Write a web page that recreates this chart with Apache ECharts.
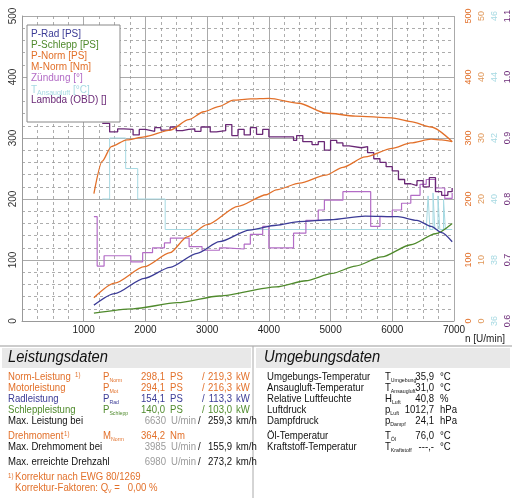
<!DOCTYPE html>
<html><head><meta charset="utf-8">
<script src="https://cdn.jsdelivr.net/npm/echarts@6/dist/echarts.min.js"></script>
<style>html,body{margin:0;padding:0;background:#fff}#main{width:512px;height:498px}</style>
</head><body><div id="main"></div>
<script>
// curves, rpm / value
var pNormRpm = [1165,1500,1982,2400,2676,3000,3500,3958,4119,4500,4920,5200,5561,6000,6300,6630,6800,6971];
var pNorm    = [38,62,89,112,138,158,188,207,215,226,239,252,269,283,292,298,297,294];
var mNormRpm = [1165,1300,1447,1700,1982,2404,2700,2944,3200,3424,3700,4006,4487,4920,5400,5989,6300,6630,6971];
var mNorm    = [209,262,286,297,302,313,330,343,352,362,364,365,357,341,336,333,327,318,294];
var pRadRpm  = [1165,1500,1982,2400,2837,3200,3686,4119,4487,5000,5561,6090,6400,6630,6800,6971];
var pRad     = [26,45,70,88,111,130,149,157,163,166,172,171,165,155,145,130];
var pSchRpm  = [1165,1800,2516,3200,4119,4600,5027,5400,5827,6300,6700,6971];
var pSch     = [13,20,30,41,56,66,78,90,105,125,143,160];
var lamRpm   = [1300,1420,1550,1650,1800,1900,2000,2150,2250,2400,2500,2600,2700,2800,2900,3050,3150,3300,3400,3500,3600,3700,3800,3900,4000,4300,4400,4450,4550,4700,4800,4900,5000,5100,5200,5300,5500,5600,5700,5800,5900,6000,6100,6200,6300,6400,6500,6600,6700,6800,6900,6970];
var lambda   = [0.924,0.910,0.915,0.914,0.905,0.914,0.911,0.917,0.913,0.918,0.912,0.914,0.915,0.911,0.918,0.910,0.912,0.922,0.904,0.914,0.905,0.917,0.906,0.914,0.902,0.902,0.896,0.904,0.894,0.889,0.894,0.880,0.896,0.892,0.887,0.884,0.886,0.876,0.866,0.860,0.853,0.846,0.832,0.825,0.822,0.830,0.820,0.835,0.812,0.806,0.812,0.818];
var zRpm     = [1165,1218,1330,1763,1955,2115,2308,2404,2708,2917,3200,3300,3600,3700,3900,4000,4400,4600,4800,4900,5200,5650,5800,6000,6150,6300,6450,6550,6700,6850,6970];
var zuend    = [17.1,9.0,10.7,9.7,11.2,12.0,12.8,13.6,12.2,11.6,12.0,11.8,12.6,14.2,15.5,12.0,14.4,16.5,18.2,19.8,21.2,15.5,17.1,18.2,19.3,20.6,22.4,23.2,21.8,20.1,21.0];
var tRpm     = [1300,1420,1680,1875,2320,6550,6580,6610,6660,6690,6740,6770,6830,6860,6971];
var tAns     = [40.0,42.0,41.0,40.0,39.0,39.0,40.1,39.0,40.2,39.0,40.1,39.0,40.0,39.0,39.0];

var leftTicks = [0,100,200,300,400,500];

function pts(xs, ys) { return xs.map(function (x, i) { return [x, ys[i]]; }); }

var myChart = echarts.init(document.getElementById('main'));
var F = 'Liberation Sans, Arial, sans-serif';
var gridLine = {show: true, lineStyle: {color: '#aaa', width: 1}};
var minorLine = {show: true, lineStyle: {color: '#999', type: [3, 3], width: 0.8}};

function rAxis(min, max, iv, off, color, fmt) {
    return {type: 'value', position: 'right', min: min, max: max, interval: iv, offset: off,
        axisLine: {show: false}, axisTick: {show: false}, splitLine: {show: false},
        axisLabel: {rotate: 90, margin: 10, color: color, fontSize: 9, fontFamily: F, formatter: fmt}};
}

var SX = 0.87;
function tx(x, y, s, c, extra) {
    var o = {type: 'text', x: x, y: y, z: 100, scaleX: SX, style: {text: s, fill: c || '#111', font: '11px ' + F}};
    if (extra) for (var k in extra) { if (k === 'scaleX') o.scaleX = extra[k]; else o.style[k] = extra[k]; }
    return o;
}
function rich(x, y, s, c, font, sx) {
    return {type: 'text', x: x, y: y, z: 100, scaleX: sx || SX, style: {text: s, fill: c, font: font || ('11px ' + F),
        rich: {s: {fontSize: sx ? 7 : 6, fill: c, fontFamily: F, padding: [6, 0, 0, 0]}}}};
}
function num(x, y, s, c) { return tx(x, y, s, c || '#111', {align: 'right'}); }

var OR = '#e2702a', BL = '#3b3b96', GR = '#4f8a2c', GY = '#9a9a9a', PU = '#6a2876', LP = '#b36cc6', LB = '#a6d9e2';
var LF = '10px ' + F;

function psRow(y, label, sym, ps, kw, c) {
    return [tx(8, y, label, c), rich(103, y, sym, c), num(165, y, ps, c), tx(170, y, 'PS', c),
        tx(202, y, '/', c), num(232, y, kw, c), tx(236, y, 'kW', c)];
}
function rpmRow(y, label, rpm, kmh) {
    return [tx(8, y, label), num(166, y, rpm, GY), tx(171, y, 'U/min', GY), tx(198, y, '/'),
        num(232, y, kmh), tx(236, y, 'km/h')];
}
function envRow(y, label, sym, v, u) {
    return [tx(267, y, label), rich(385, y, sym, '#111'), num(434, y, v), tx(440, y, u)];
}

var g = [
    {type: 'rect', z: 99, shape: {x: 27, y: 25, width: 93, height: 97}, style: {fill: '#fff', stroke: '#888', lineWidth: 1}},
    tx(31, 29, 'P-Rad [PS]', BL, {font: LF, scaleX: 1}), tx(31, 40, 'P-Schlepp [PS]', GR, {font: LF, scaleX: 1}),
    tx(31, 51, 'P-Norm [PS]', OR, {font: LF, scaleX: 1}), tx(31, 62, 'M-Norm [Nm]', OR, {font: LF, scaleX: 1}),
    tx(31, 73, 'Zündung [°]', LP, {font: LF, scaleX: 1}),
    rich(31, 84, 'T{s|Ansaugluft} [°C]', LB, LF, 1), tx(31, 95, 'Lambda (OBD) []', PU, {font: LF, scaleX: 1}),
    tx(465, 334, 'n [U/min]', '#222', {font: LF, scaleX: 1}),
    {type: 'line', shape: {x1: 0, y1: 346, x2: 512, y2: 346}, style: {stroke: '#999', lineWidth: 1}},
    {type: 'rect', shape: {x: 2, y: 348, width: 249, height: 20}, style: {fill: '#e8e8e8'}},
    {type: 'rect', shape: {x: 256, y: 348, width: 254, height: 20}, style: {fill: '#e8e8e8'}},
    {type: 'line', shape: {x1: 253, y1: 346, x2: 253, y2: 498}, style: {stroke: '#aaa', lineWidth: 1}},
    tx(8, 350, 'Leistungsdaten', '#111', {font: 'italic 16px ' + F, scaleX: 0.92}),
    tx(264, 350, 'Umgebungsdaten', '#111', {font: 'italic 16px ' + F, scaleX: 0.92})
].concat(
    psRow(371, 'Norm-Leistung', 'P{s|Norm}', '298,1', '219,3', OR),
    psRow(382, 'Motorleistung', 'P{s|Mot}', '294,1', '216,3', OR),
    psRow(393, 'Radleistung', 'P{s|Rad}', '154,1', '113,3', BL),
    psRow(404, 'Schleppleistung', 'P{s|Schlepp}', '140,0', '103,0', GR),
    rpmRow(415, 'Max. Leistung bei', '6630', '259,3'),
    [tx(8, 430, 'Drehmoment', OR), rich(103, 430, 'M{s|Norm}', OR), num(165, 430, '364,2', OR), tx(170, 430, 'Nm', OR),
     tx(75, 372, '1)', OR, {font: '7px ' + F}), tx(64, 431, '1)', OR, {font: '7px ' + F})],
    rpmRow(441, 'Max. Drehmoment bei', '3985', '155,9'),
    rpmRow(456, 'Max. erreichte Drehzahl', '6980', '273,2'),
    [tx(8, 473, '1)', OR, {font: '7px ' + F}), tx(15, 471, 'Korrektur nach EWG 80/1269', OR),
     rich(15, 482, 'Korrektur-Faktoren: Q{s|V} =   0,00 %', OR)],
    envRow(371, 'Umgebungs-Temperatur', 'T{s|Umgebung}', '35,9', '°C'),
    envRow(382, 'Ansaugluft-Temperatur', 'T{s|Ansaugluft}', '31,0', '°C'),
    envRow(393, 'Relative Luftfeuchte', 'H{s|Luft}', '40,8', '%'),
    envRow(404, 'Luftdruck', 'p{s|Luft}', '1012,7', 'hPa'),
    envRow(415, 'Dampfdruck', 'p{s|Dampf}', '24,1', 'hPa'),
    envRow(430, 'Öl-Temperatur', 'T{s|Öl}', '76,0', '°C'),
    envRow(441, 'Kraftstoff-Temperatur', 'T{s|Kraftstoff}', '---,-', '°C')
);

function line(name, data, color, yi, step, w) {
    return {name: name, type: 'line', data: data, yAxisIndex: yi, step: step || false,
        smooth: step ? false : 0.25, smoothMonotone: 'x',
        showSymbol: false, lineStyle: {color: color, width: w || 1.3}, itemStyle: {color: color}, z: 3};
}

option = {
    backgroundColor: '#fff',
    animation: false,
    grid: {left: 22, right: 52, top: 16, bottom: 177},
    xAxis: {type: 'value', min: 0, max: 7000, interval: 1000, minorTick: {show: false, splitNumber: 4},
        axisLine: {show: true, lineStyle: {color: '#999'}}, axisTick: {show: false},
        axisLabel: {color: '#222', fontSize: 10, fontFamily: F, margin: 4,
            formatter: function (v) { return v === 0 ? '' : v; }},
        splitLine: gridLine, minorSplitLine: minorLine},
    yAxis: [
        {type: 'value', min: 0, max: 500, interval: 100, position: 'left', minorTick: {show: false, splitNumber: 5},
            axisLine: {show: true, lineStyle: {color: '#999'}}, axisTick: {show: false},
            axisLabel: {rotate: 90, margin: 4, color: '#333', fontSize: 10, fontFamily: F,
                formatter: function (v) { return leftTicks.indexOf(v) >= 0 ? v : ''; }},
            splitLine: gridLine, minorSplitLine: minorLine},
        rAxis(0, 500, 100, 0, OR),
        rAxis(0, 50, 10, 13, '#e0985a'),
        rAxis(36, 46, 2, 26, LB),
        rAxis(0.6, 1.1, 0.1, 39, PU, function (v) { return v.toFixed(1); })
    ],
    series: [
        line('T', pts(tRpm, tAns), LB, 3, 'end', 1),
        line('Zündung', pts(zRpm, zuend), LP, 2, 'end', 1.2),
        line('Lambda', pts(lamRpm, lambda), PU, 4, 'end', 1.3),
        line('P-Schlepp', pts(pSchRpm, pSch), GR, 0),
        line('P-Rad', pts(pRadRpm, pRad), BL, 0),
        line('P-Norm', pts(pNormRpm, pNorm), OR, 0),
        line('M-Norm', pts(mNormRpm, mNorm), OR, 0)
    ],
    graphic: g
};
myChart.setOption(option);
window.onresize = myChart.resize;
</script></body></html>
